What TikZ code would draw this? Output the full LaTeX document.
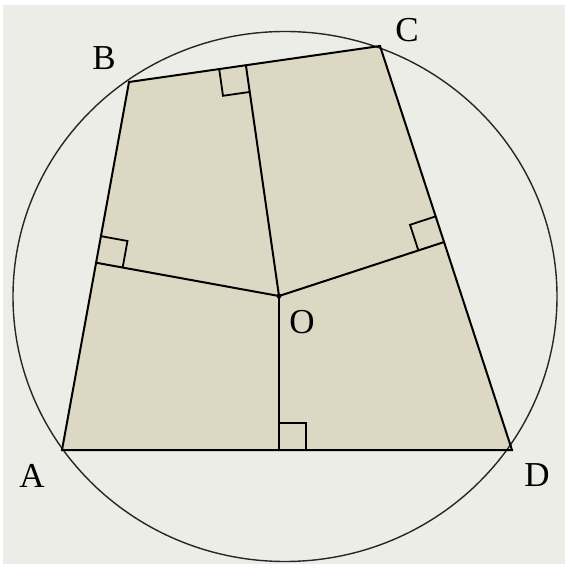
\documentclass[tikz,border=0pt]{standalone}
\usepackage{fontspec}
\setmainfont{Liberation Serif}
\usetikzlibrary{calc}
\definecolor{bgc}{RGB}{237,237,232}
\definecolor{fillc}{RGB}{221,216,196}
\tikzset{
  edge/.style={line width=2pt, black, line join=miter},
  circ/.style={line width=1.4pt, black!85},
  rmark/.style={line width=1.8pt, black},
  lbl/.style={font=\fontsize{35}{35}\selectfont, inner sep=0pt}
}
\begin{document}
\begin{tikzpicture}[x=1pt,y=-1pt]
\useasboundingbox (0,0) rectangle (565,564);
\fill[white] (0,0) rectangle (565,564);
\fill[bgc] (3,5) rectangle (565,564);
\coordinate (A) at (62,450);
\coordinate (B) at (129,82);
\coordinate (C) at (380,46);
\coordinate (D) at (512,450);
\coordinate (O) at (279,296);
\coordinate (Ctr) at (285,296.5);
\fill[fillc] (A)--(B)--(C)--(D)--cycle;
\draw[circ] (Ctr) ellipse [x radius=272, y radius=265];
\draw[edge] (A)--(B)--(C)--(D)--cycle;
\coordinate (P1) at ($(A)!(O)!(B)$);
\coordinate (P2) at ($(B)!(O)!(C)$);
\coordinate (P3) at ($(C)!(O)!(D)$);
\coordinate (P4) at (O |- A);
\draw[edge] (O)--(P1);
\draw[edge] (O)--(P2);
\draw[edge] (O)--(P3);
\draw[edge] (O)--(P4);
% right angle marks
\foreach \p/\t in {P1/B, P2/B, P3/C, P4/D}{
  \coordinate (ma) at ($(\p)!27pt!(\t)$);
  \coordinate (mb) at ($(\p)!27pt!(O)$);
  \draw[rmark] (ma) -- ($(ma)+(mb)-(\p)$) -- (mb);
}
\fill (O) circle (2.5pt);
\node[lbl] (lA) at (32,476) {A};
\node[lbl] (lB) at (104,58) {B};
\node[lbl] (lC) at (407,30) {C};
\node[lbl] (lD) at (537,475) {D};
\node[lbl] (lO) at (302,322) {O};
\end{tikzpicture}
\end{document}
